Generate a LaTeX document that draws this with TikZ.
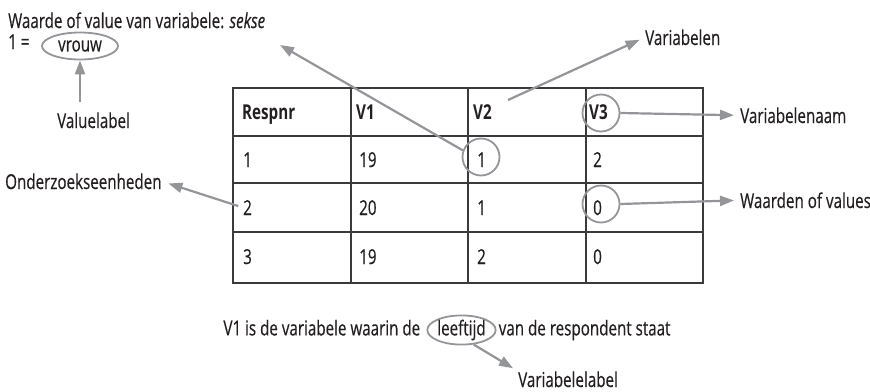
\documentclass[tikz,border=0pt]{standalone}
\usepackage{fontspec}
\setmainfont{Open Sans}[FakeStretch=0.74, UprightFeatures={FakeBold=0.4}, ItalicFeatures={FakeBold=0.4}]
\usetikzlibrary{arrows.meta,shapes.geometric}
\definecolor{arrgray}{RGB}{148,149,152}
\definecolor{linegray}{RGB}{58,57,59}
\definecolor{txt}{RGB}{35,31,32}
\begin{document}
\begin{tikzpicture}[x=1pt,y=-1pt, font=\fontsize{20.5}{22}\selectfont, text=txt,
  lbl/.style={inner sep=0pt, anchor=base west},
  arr/.style={draw=arrgray, line width=2.2pt, -{Triangle[length=14pt,width=10pt]}},
  ring/.style={draw=arrgray, line width=1.8pt, circle, minimum size=37pt, inner sep=0pt},
  oval/.style={draw=arrgray, line width=1.8pt, ellipse, inner sep=0pt},
  tline/.style={draw=linegray, line width=2.2pt}]
\useasboundingbox (0,0) rectangle (870,391);

% table grid
\draw[tline] (233,88) rectangle (703,283);
\foreach \x in {351,468,586} \draw[tline] (\x,88) -- (\x,283);
\foreach \y in {136,183,232} \draw[tline] (233,\y) -- (703,\y);

% header
\node[lbl] (h1) at (242,119.5) {\bfseries Respnr};
\node[lbl] (h2) at (356,119.5) {\bfseries V1};
\node[lbl] (h3) at (473,119.5) {\bfseries V2};
\node[lbl] (h4) at (589,119.5) {\bfseries V3};
% rows
\node[lbl] (a1) at (243,167) {1};
\node[lbl] (a2) at (359,167) {19};
\node[lbl] (a3) at (477,167) {1};
\node[lbl] (a4) at (593,167) {2};
\node[lbl] (b1) at (243,215) {2};
\node[lbl] (b2) at (359,215) {20};
\node[lbl] (b3) at (477,215) {1};
\node[lbl] (b4) at (593,215) {0};
\node[lbl] (d1) at (243,264) {3};
\node[lbl] (d2) at (359,264) {19};
\node[lbl] (d3) at (477,264) {2};
\node[lbl] (d4) at (593,264) {0};

% rings
\node[ring] (c1) at (481,157) {};
\node[ring] (cv3) at (601,113) {};
\node[ring] (c0) at (601,204) {};

% top left
\node[lbl] (wv1) at (8,28) {Waarde of value van variabele: \textit{sekse}};
\node[lbl] (eq) at (8,49) {1 =};
\node[oval, minimum width=76pt, minimum height=27pt] (vr) at (80,46) {vrouw};
\node[lbl] (vl) at (57,128) {Valuelabel};
\draw[arr] ([yshift=10pt]vr.south |- vl.north) -- (vr.south);

% labels right
\node[lbl] (varn) at (645,45) {Variabelen};
\node[lbl] (vnaam) at (740,123) {Variabelenaam};
\node[lbl] (wval) at (740,208) {Waarden of values};
\node[lbl] (ond) at (5,189) {Onderzoekseenheden};

\coordinate (tgt1) at (280,45);
\coordinate (s2) at (508,100);
\draw[arr] (c1.160) -- (tgt1);
\draw[arr, shorten >=6pt] (s2) -- (varn.west);
\draw[arr, shorten >=6pt] (cv3.east) -- (vnaam.west);
\draw[arr, shorten >=6pt] (c0.east) -- (wval.west);
\draw[arr, shorten <=5pt, shorten >=7pt] (b1.west) -- (ond.east);

% bottom sentence
\node[oval, minimum width=68pt, minimum height=27pt] (lf) at (461.5,330) {leeftijd};
\node[lbl, anchor=base east] (s1) at ([xshift=-6pt]lf.west |- lf.base) {V1 is de variabele waarin de};
\node[lbl] (s3) at ([xshift=2pt]lf.east |- lf.base) {van de respondent staat};
\node[lbl] (vll) at (518,387) {Variabelelabel};
\draw[arr] (lf.-50) -- ([shift={(-5pt,3pt)}]vll.north west);
\end{tikzpicture}
\end{document}
